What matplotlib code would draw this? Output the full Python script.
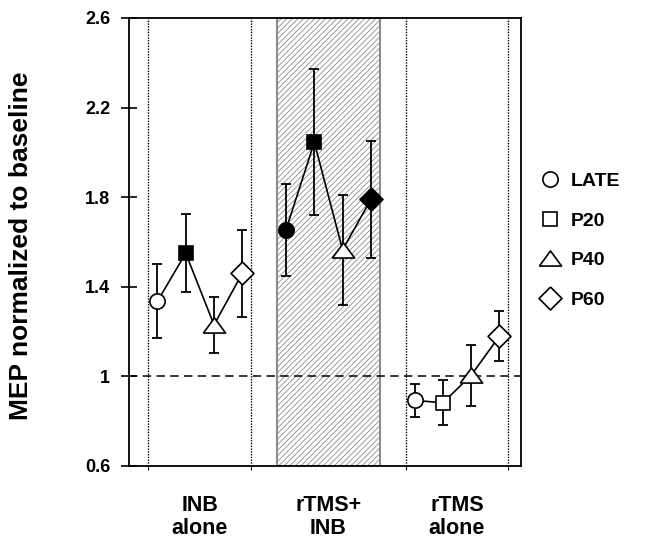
import matplotlib
matplotlib.use("Agg")
import matplotlib.pyplot as plt
from matplotlib.lines import Line2D
import numpy as np

plt.rcParams["font.family"] = ["Liberation Sans", "DejaVu Sans"]
plt.rcParams["font.weight"] = "bold"
plt.rcParams["hatch.linewidth"] = 0.6

# ── Data ──────────────────────────────────────────────────
groups     = ["INB\nalone", "rTMS+\nINB", "rTMS\nalone"]
conditions = ["LATE", "P20", "P40", "P60"]

inb_mean   = [1.335, 1.55, 1.23, 1.46]
inb_err    = [0.165, 0.175, 0.125, 0.195]
combo_mean = [1.655, 2.045, 1.565, 1.79]
combo_err  = [0.205, 0.325, 0.245, 0.26]
rtms_mean  = [0.893, 0.882, 1.005, 1.18]
rtms_err   = [0.073, 0.10, 0.135, 0.11]

# filled (True) / open (False) marker per group and condition
inb_filled   = [False, True, False, False]
combo_filled = [True, True, False, True]
rtms_filled  = [False, False, False, False]

yticks = [0.6, 1.0, 1.4, 1.8, 2.2, 2.6]
ytick_labels = ["0.6", "1", "1.4", "1.8", "2.2", "2.6"]

# ── Markers ───────────────────────────────────────────────
tri = [(-1, -0.68), (1, -0.68), (0, 0.68), (-1, -0.68)]
dia = [(0, 1), (1, 0), (0, -1), (-1, 0), (0, 1)]
markers = ["o", "s", tri, dia]
msizes  = [11, 10.5, 16, 16.5]

offsets = np.array([-0.33, -0.11, 0.11, 0.33])

fig = plt.figure(figsize=(6.65, 5.44), dpi=100)
ax = fig.add_axes([0.194, 0.1434, 0.589, 0.8236])

# shaded rTMS+INB band and dotted group borders
ax.axvspan(1.6, 2.4, facecolor="white", edgecolor="#8c8c8c",
           hatch="//////", linewidth=1.5, zorder=0)
for xv in [0.6, 1.4, 2.6, 3.4]:
    ax.axvline(xv, color="black", linestyle=(0, (1, 1)), linewidth=1.0, zorder=1)
ax.axhline(1.0, color="black", linestyle=(0, (5.5, 3.5)), linewidth=1.1, zorder=2)

all_means  = [inb_mean, combo_mean, rtms_mean]
all_errs   = [inb_err, combo_err, rtms_err]
all_filled = [inb_filled, combo_filled, rtms_filled]

for gi, (m, e, filled) in enumerate(zip(all_means, all_errs, all_filled)):
    xs = gi + 1 + offsets
    ax.plot(xs, m, color="black", linewidth=1.2, zorder=3)
    ax.errorbar(xs, m, yerr=e, fmt="none", ecolor="black", elinewidth=1.3,
                capsize=3.5, capthick=1.3, zorder=3)
    for k in range(4):
        ax.plot(xs[k], m[k], linestyle="none", marker=markers[k],
                markersize=msizes[k], markeredgecolor="black",
                markeredgewidth=1.2,
                markerfacecolor="black" if filled[k] else "white", zorder=4)

ax.set_xlim(0.449, 3.495)
ax.set_ylim(0.6, 2.6)
ax.set_yticks(yticks)
ax.set_yticklabels(ytick_labels, fontsize=13, fontweight="bold")
ax.tick_params(axis="y", direction="inout", length=11, width=1.2, pad=8)
ax.set_xticks([0.6, 1.4, 2.6, 3.4])
ax.set_xticklabels([])
ax.tick_params(axis="x", direction="out", length=3, width=0.8)
for sp in ax.spines.values():
    sp.set_linewidth(1.3)

trans = ax.get_xaxis_transform()
for gi, g in enumerate(groups):
    ax.text(gi + 1, -0.064, g, transform=trans, ha="center", va="top",
            fontsize=15.5, fontweight="bold", linespacing=1.15)

fig.text(21 / 665, 1 - 246 / 544, "MEP normalized to baseline", rotation=90,
         ha="center", va="center", fontsize=19, fontweight="bold")

# legend
handles = [Line2D([], [], linestyle="none", marker=markers[k],
                  markersize=msizes[k], markeredgecolor="black",
                  markeredgewidth=1.2, markerfacecolor="white")
           for k in range(4)]
fig.legend(handles, conditions, loc="center left",
           bbox_to_anchor=(532 / 665, 1 - 240.5 / 544), frameon=False,
           prop={"size": 14, "weight": "bold"}, handlelength=1.0,
           handletextpad=0.6, labelspacing=1.13, borderaxespad=0)

fig.savefig("out.png", dpi=100)
